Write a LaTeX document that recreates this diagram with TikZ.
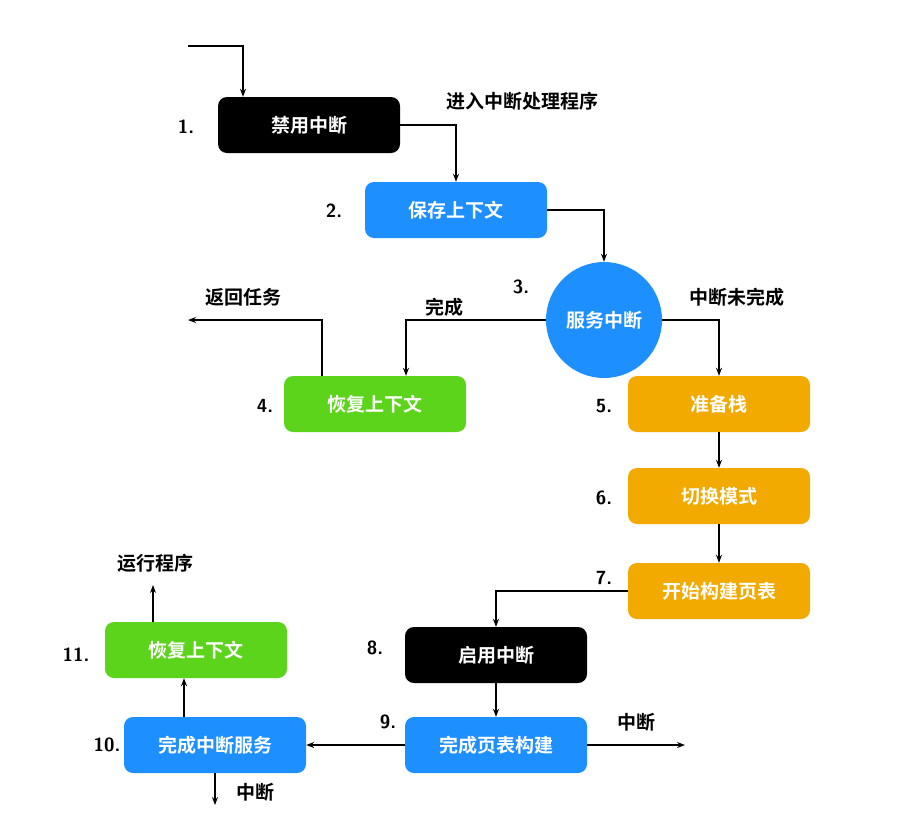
\documentclass[tikz,border=0pt]{standalone}
\usepackage{fontspec}
\setmainfont{Noto Sans CJK SC}[BoldFont={Noto Sans CJK SC Bold}]
\usetikzlibrary{arrows.meta}
\definecolor{cblue}{HTML}{1E8FFF}
\definecolor{cgreen}{HTML}{5CD41C}
\definecolor{corange}{HTML}{F2A900}
\begin{document}
\begin{tikzpicture}[x=1pt,y=-1pt,
 box/.style={rounded corners=9pt,minimum width=182pt,minimum height=56pt,inner sep=0pt,text=white,font=\fontsize{19}{19}\selectfont\bfseries},
 lbl/.style={font=\fontsize{19}{19}\selectfont\bfseries,text=black},
 num/.style={font=\fontsize{19}{19}\selectfont\bfseries\sffamily,text=black},
 ar/.style={-{Stealth[length=8pt,width=6pt]},line width=1.2pt}]
\useasboundingbox (0,0) rectangle (901,822);
\fill[white] (0,0) rectangle (901,822);
\node[box,fill=black] (n1) at (309,125) {禁用中断};
\node[box,fill=cblue] (n2) at (456,210) {保存上下文};
\node[circle,fill=cblue,minimum size=116pt,inner sep=0pt,text=white,font=\fontsize{19}{19}\selectfont\bfseries] (n3) at (604,320) {服务中断};
\node[box,fill=cgreen] (n4) at (375,404) {恢复上下文};
\node[box,fill=corange] (n5) at (719,404) {准备栈};
\node[box,fill=corange] (n6) at (719,496) {切换模式};
\node[box,fill=corange] (n7) at (719,591) {开始构建页表};
\node[box,fill=black] (n8) at (496,655) {启用中断};
\node[box,fill=cblue] (n9) at (496,745) {完成页表构建};
\node[box,fill=cblue] (n10) at (215,745) {完成中断服务};
\node[box,fill=cgreen] (n11) at (196,650) {恢复上下文};
\coordinate (s) at (188,46);
\coordinate (e4) at (188,320);
\coordinate (e9) at (685,745);
\coordinate (e10) at (215,805);
\coordinate (e11) at (153,585);
\draw[ar] (s) -| ([xshift=-66pt]n1.north);
\draw[ar] (n1.east) -| (n2.north);
\draw[ar] (n2.east) -| (n3.north);
\draw[ar] (n3.west) -| ([xshift=31pt]n4.north);
\draw[ar] ([xshift=-53pt]n4.north) |- (e4);
\draw[ar] (n3.east) -| (n5.north);
\draw[ar] (n5) -- (n6);
\draw[ar] (n6) -- (n7);
\draw[ar] (n7.west) -| (n8.north);
\draw[ar] (n8) -- (n9);
\draw[ar] (n9) -- (n10);
\draw[ar] (n9.east) -- (e9);
\draw[ar] (n10.south) -- (e10);
\draw[ar] ([xshift=-31pt]n10.north) -- ([xshift=-12pt]n11.south);
\draw[ar] ([xshift=-43pt]n11.north) -- (e11);
\node[lbl] (l1) at (522,101) {进入中断处理程序};
\node[lbl] (l2) at (444,307) {完成};
\node[lbl] (l3) at (243,297) {返回任务};
\node[lbl] (l4) at (737,297) {中断未完成};
\node[lbl] (l5) at (636,722) {中断};
\node[lbl] (l6) at (255,792) {中断};
\node[lbl] (l7) at (155,563) {运行程序};
\node[num] (m1) at (186,127) {1.};
\node[num] (m2) at (334,211) {2.};
\node[num] (m3) at (521,287) {3.};
\node[num] (m4) at (265,406) {4.};
\node[num] (m5) at (604,406) {5.};
\node[num] (m6) at (604,498) {6.};
\node[num] (m7) at (604,578) {7.};
\node[num] (m8) at (375,648) {8.};
\node[num] (m9) at (388,722) {9.};
\node[num] (m10) at (107,745) {10.};
\node[num] (m11) at (76,655) {11.};
\end{tikzpicture}
\end{document}
